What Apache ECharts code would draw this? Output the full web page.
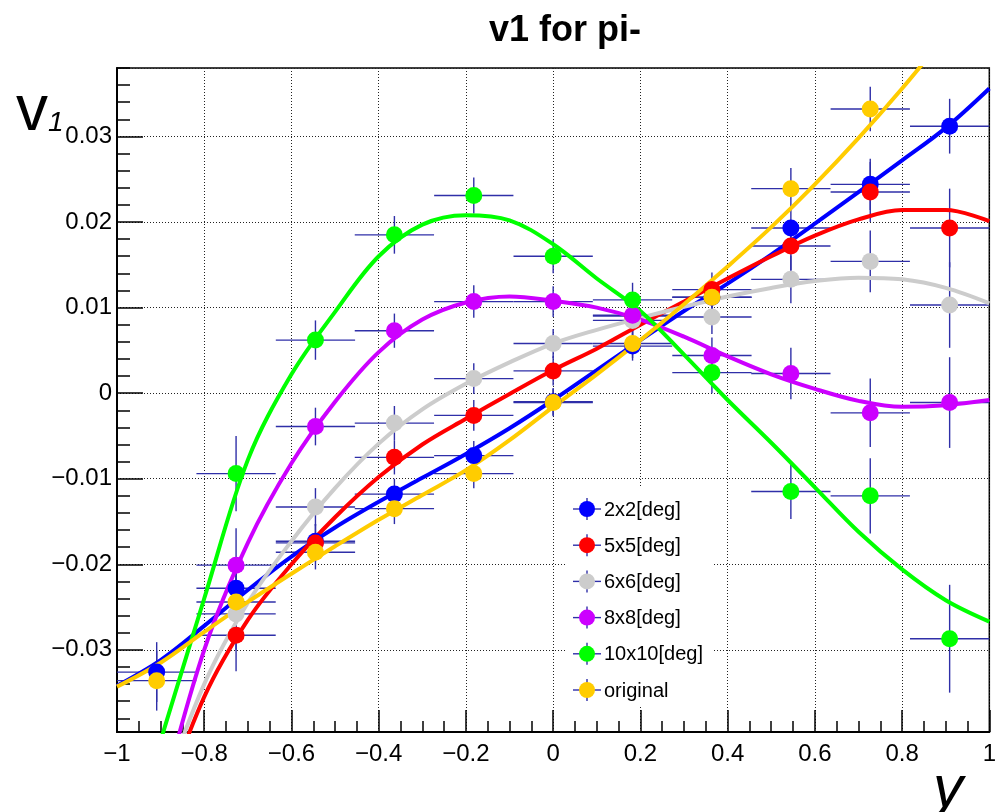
<!DOCTYPE html>
<html><head><meta charset="utf-8">
<script src="https://cdn.jsdelivr.net/npm/echarts@6/dist/echarts.min.js"></script>
<style>html,body{margin:0;padding:0;background:#fff}#c{width:999px;height:812px}</style>
</head><body><div id="c"></div>
<script>
// ---------------- data ----------------
const chartTitle = 'v1 for pi-';
const yTitleMain = 'v';
const yTitleSub = '1';
const xTitle = 'y';
const seriesNames = ['2x2[deg]', '5x5[deg]', '6x6[deg]', '8x8[deg]', '10x10[deg]', 'original'];
const seriesColors = ['#0000ff', '#ff0000', '#cccccc', '#cc00ff', '#00ff00', '#ffcc00'];

const binX = [-0.909, -0.727, -0.545, -0.364, -0.182, 0, 0.182, 0.364, 0.545, 0.727, 0.909];
const binHalfWidth = 0.0909;

const v1_2x2   = [-0.0326, -0.0228, -0.0173, -0.0118, -0.0073, -0.0010, 0.0055, 0.0112, 0.0193, 0.0244, 0.0312];
const err_2x2  = [0.0035, 0.0035, 0.0020, 0.0018, 0.0017, 0.0016, 0.0017, 0.0019, 0.0025, 0.0030, 0.0032];
const v1_5x5   = [null, -0.0283, -0.0175, -0.0075, -0.0026, 0.0026, 0.0090, 0.0121, 0.0172, 0.0235, 0.0193];
const err_5x5  = [null, 0.0042, 0.0022, 0.0020, 0.0018, 0.0017, 0.0018, 0.0020, 0.0028, 0.0035, 0.0046];
const v1_6x6   = [null, -0.0258, -0.0133, -0.0035, 0.0017, 0.0058, 0.0085, 0.0089, 0.0133, 0.0154, 0.0103];
const err_6x6  = [null, 0.0042, 0.0022, 0.0020, 0.0018, 0.0017, 0.0018, 0.0020, 0.0028, 0.0036, 0.0050];
const v1_8x8   = [null, -0.0201, -0.0039, 0.0073, 0.0107, 0.0107, 0.0091, 0.0044, 0.0023, -0.0023, -0.0011];
const err_8x8  = [null, 0.0043, 0.0022, 0.0020, 0.0019, 0.0018, 0.0018, 0.0021, 0.0030, 0.0040, 0.0053];
const v1_10x10 = [null, -0.0094, 0.0062, 0.0185, 0.0231, 0.0160, 0.0109, 0.0024, -0.0115, -0.0120, -0.0287];
const err_10x10= [null, 0.0044, 0.0023, 0.0022, 0.0021, 0.0020, 0.0020, 0.0024, 0.0032, 0.0044, 0.0063];
const v1_orig  = [-0.0336, -0.0244, -0.0186, -0.0135, -0.0094, -0.0011, 0.0058, 0.0112, 0.0239, 0.0332, null];
const err_orig = [0.0035, 0.0036, 0.0020, 0.0018, 0.0017, 0.0016, 0.0017, 0.0019, 0.0024, 0.0026, null];

const fitX = [-1, -0.9, -0.8, -0.7, -0.6, -0.5, -0.4, -0.3, -0.2, -0.1, 0, 0.1, 0.2, 0.3, 0.4, 0.5, 0.6, 0.7, 0.8, 0.9, 1];
const fit_2x2   = [-0.0342, -0.0312, -0.0272, -0.0230, -0.0191, -0.0157, -0.0127, -0.0099, -0.0071, -0.0041, -0.0008, 0.0027, 0.0062, 0.0096, 0.0128, 0.0162, 0.0198, 0.0235, 0.0272, 0.0310, 0.0356];
const fit_5x5   = [null, -0.0490, -0.0355, -0.0265, -0.0200, -0.0145, -0.0098, -0.0060, -0.0030, -0.0001, 0.0027, 0.0052, 0.0080, 0.0107, 0.0134, 0.0160, 0.0184, 0.0203, 0.0214, 0.0214, 0.0201];
const fit_6x6   = [null, -0.0475, -0.0340, -0.0245, -0.0173, -0.0111, -0.0059, -0.0019, 0.0011, 0.0036, 0.0058, 0.0074, 0.0088, 0.0101, 0.0113, 0.0123, 0.0131, 0.0135, 0.0133, 0.0123, 0.0105];
const fit_8x8   = [null, -0.0480, -0.0300, -0.0175, -0.0082, -0.0010, 0.0048, 0.0086, 0.0106, 0.0113, 0.0108, 0.0100, 0.0086, 0.0066, 0.0043, 0.0022, 0.0005, -0.0009, -0.0016, -0.0014, -0.0008];
const fit_10x10 = [null, -0.0406, -0.0240, -0.0078, 0.0022, 0.0095, 0.0160, 0.0197, 0.0208, 0.0202, 0.0174, 0.0134, 0.0096, 0.0045, -0.0008, -0.0058, -0.0110, -0.0162, -0.0206, -0.0242, -0.0267];
const fit_orig  = [-0.0343, -0.0315, -0.0279, -0.0244, -0.0211, -0.0179, -0.0148, -0.0119, -0.0090, -0.0055, -0.0016, 0.0022, 0.0062, 0.0104, 0.0148, 0.0194, 0.0244, 0.0298, 0.0356, 0.0418, null];

const xTickValues = [-1, -0.8, -0.6, -0.4, -0.2, 0, 0.2, 0.4, 0.6, 0.8, 1];
const yTickValues = [-0.03, -0.02, -0.01, 0, 0.01, 0.02, 0.03];
const yRange = [-0.0396, 0.038];
const xRange = [-1, 1];

// ---------------- chart ----------------
const pointSets = [v1_2x2, v1_5x5, v1_6x6, v1_8x8, v1_10x10, v1_orig];
const errSets = [err_2x2, err_5x5, err_6x6, err_8x8, err_10x10, err_orig];
const fitSets = [fit_2x2, fit_5x5, fit_6x6, fit_8x8, fit_10x10, fit_orig];

const FONT = 'Liberation Sans, Arial, sans-serif';
const ERR_COLOR = '#2f2fa8';
const fmt = (v, d) => {
  if (Math.abs(v) < 1e-9) return '0';
  return String(+v.toFixed(d)).replace('-', '\u2212');
};

// minor y ticks every 0.002 inside the range, excluding majors
const yMinor = [];
for (let k = Math.ceil(yRange[0] / 0.002); k <= Math.floor(yRange[1] / 0.002); k++) {
  if (k % 5 !== 0) yMinor.push(+(k * 0.002).toFixed(4));
}

const series = [];
pointSets.forEach((vals, s) => {
  const data = [];
  binX.forEach((x, i) => { if (vals[i] != null) data.push([x, vals[i], binHalfWidth, errSets[s][i]]); });
  series.push({
    type: 'custom', name: seriesNames[s] + ' err', xAxisIndex: 0, yAxisIndex: 0, clip: true, z: 2,
    silent: true,
    renderItem: (params, api) => {
      const x = api.value(0), y = api.value(1), ex = api.value(2), ey = api.value(3);
      const c = api.coord([x, y]);
      const l = api.coord([x - ex, y]), r = api.coord([x + ex, y]);
      const t = api.coord([x, y + ey]), b = api.coord([x, y - ey]);
      const st = { stroke: ERR_COLOR, lineWidth: 1.4 };
      return { type: 'group', children: [
        { type: 'line', shape: { x1: l[0], y1: c[1], x2: r[0], y2: c[1] }, style: st },
        { type: 'line', shape: { x1: c[0], y1: t[1], x2: c[0], y2: b[1] }, style: st }
      ]};
    },
    data: data
  });
});
fitSets.forEach((vals, s) => {
  series.push({
    type: 'line', name: seriesNames[s] + ' fit', smooth: 0.35, showSymbol: false, symbol: 'none',
    clip: true, z: 3, silent: true,
    lineStyle: { color: seriesColors[s], width: 4 },
    data: fitX.map((x, i) => [x, vals[i]]).filter(p => p[1] != null)
  });
});
pointSets.forEach((vals, s) => {
  const data = [];
  binX.forEach((x, i) => { if (vals[i] != null) data.push([x, vals[i]]); });
  series.push({
    type: 'scatter', name: seriesNames[s], symbol: 'circle', symbolSize: 17, z: 4 + s * 0.01,
    itemStyle: { color: seriesColors[s], opacity: 1 }, data: data, clip: true
  });
});

// legend drawn as graphic elements
const legX = 567, legY = 488, legW = 146, legH = 218;
const rowY0 = 509, rowStep = 36.2, markX = 587, textX = 604;
const graphics = [
  { type: 'rect', z: 10, shape: { x: legX, y: legY, width: legW, height: legH }, style: { fill: '#fff' } }
];
seriesNames.forEach((n, i) => {
  const cy = rowY0 + i * rowStep;
  graphics.push({ type: 'line', z: 11, shape: { x1: markX - 14, y1: cy, x2: markX + 14, y2: cy }, style: { stroke: ERR_COLOR, lineWidth: 1.4 } });
  graphics.push({ type: 'line', z: 11, shape: { x1: markX, y1: cy - 11, x2: markX, y2: cy + 11 }, style: { stroke: ERR_COLOR, lineWidth: 1.4 } });
  graphics.push({ type: 'circle', z: 12, shape: { cx: markX, cy: cy, r: 8 }, style: { fill: seriesColors[i] } });
  graphics.push({ type: 'text', z: 12, style: { text: n, x: textX, y: cy + 1, font: '20px ' + FONT, fill: '#000', verticalAlign: 'middle', align: 'left' } });
});
// axis titles
graphics.push({ type: 'text', z: 12, style: { x: 16, y: 80, text: '{v|' + yTitleMain + '}{s|' + yTitleSub + '}', rich: {
  v: { fontSize: 64, fontFamily: FONT, color: '#000', verticalAlign: 'bottom' },
  s: { fontSize: 28, fontFamily: FONT, fontStyle: 'italic', color: '#000', padding: [0, 0, 7, 0], verticalAlign: 'bottom' }
} } });
graphics.push({ type: 'text', z: 12, style: { x: 933, y: 760, text: xTitle, font: 'italic 60px ' + FONT, fill: '#000' } });

const chart = echarts.init(document.getElementById('c'), null, { renderer: 'canvas' });
chart.setOption({
  animation: false,
  backgroundColor: '#fff',
  title: { text: chartTitle, left: 560, top: 8, textAlign: 'center',
    textStyle: { fontFamily: FONT, fontWeight: 'bold', fontSize: 36, color: '#000' } },
  grid: { left: 117, right: 2, top: 68, bottom: 80, show: true, borderColor: '#000', borderWidth: 1.5, backgroundColor: 'transparent' },
  xAxis: {
    type: 'value', min: xRange[0], max: xRange[1], interval: 0.2,
    axisLine: { show: true, onZero: false, lineStyle: { color: '#000', width: 2 } },
    axisTick: { show: true, inside: true, length: 22, lineStyle: { color: '#000', width: 1.5 } },
    minorTick: { show: true, splitNumber: 4, length: 11, lineStyle: { color: '#000', width: 1.5 } },
    splitLine: { show: true, lineStyle: { color: '#222', width: 1, type: [1, 2] } },
    axisLabel: { fontFamily: FONT, fontSize: 24, color: '#000', margin: 10, formatter: v => fmt(v, 1) }
  },
  yAxis: [{
    type: 'value', min: yRange[0], max: yRange[1], splitNumber: 8,
    axisLine: { show: true, onZero: false, lineStyle: { color: '#000', width: 2 } },
    axisTick: { show: true, inside: true, length: 26, lineStyle: { color: '#000', width: 1.5 } },
    splitLine: { show: true, lineStyle: { color: '#222', width: 1, type: [1, 2] } },
    axisLabel: { fontFamily: FONT, fontSize: 24, color: '#000', margin: 5, showMinLabel: false, showMaxLabel: false,
      formatter: v => fmt(v, 2) }
  }, {
    type: 'value', min: yRange[0], max: yRange[1], position: 'left',
    axisLine: { show: false, onZero: false },
    axisTick: { show: true, inside: true, length: 13, customValues: yMinor, lineStyle: { color: '#000', width: 1.5 } },
    axisLabel: { show: false },
    splitLine: { show: false }
  }],
  graphic: graphics,
  series: series
});
</script>
</body></html>
